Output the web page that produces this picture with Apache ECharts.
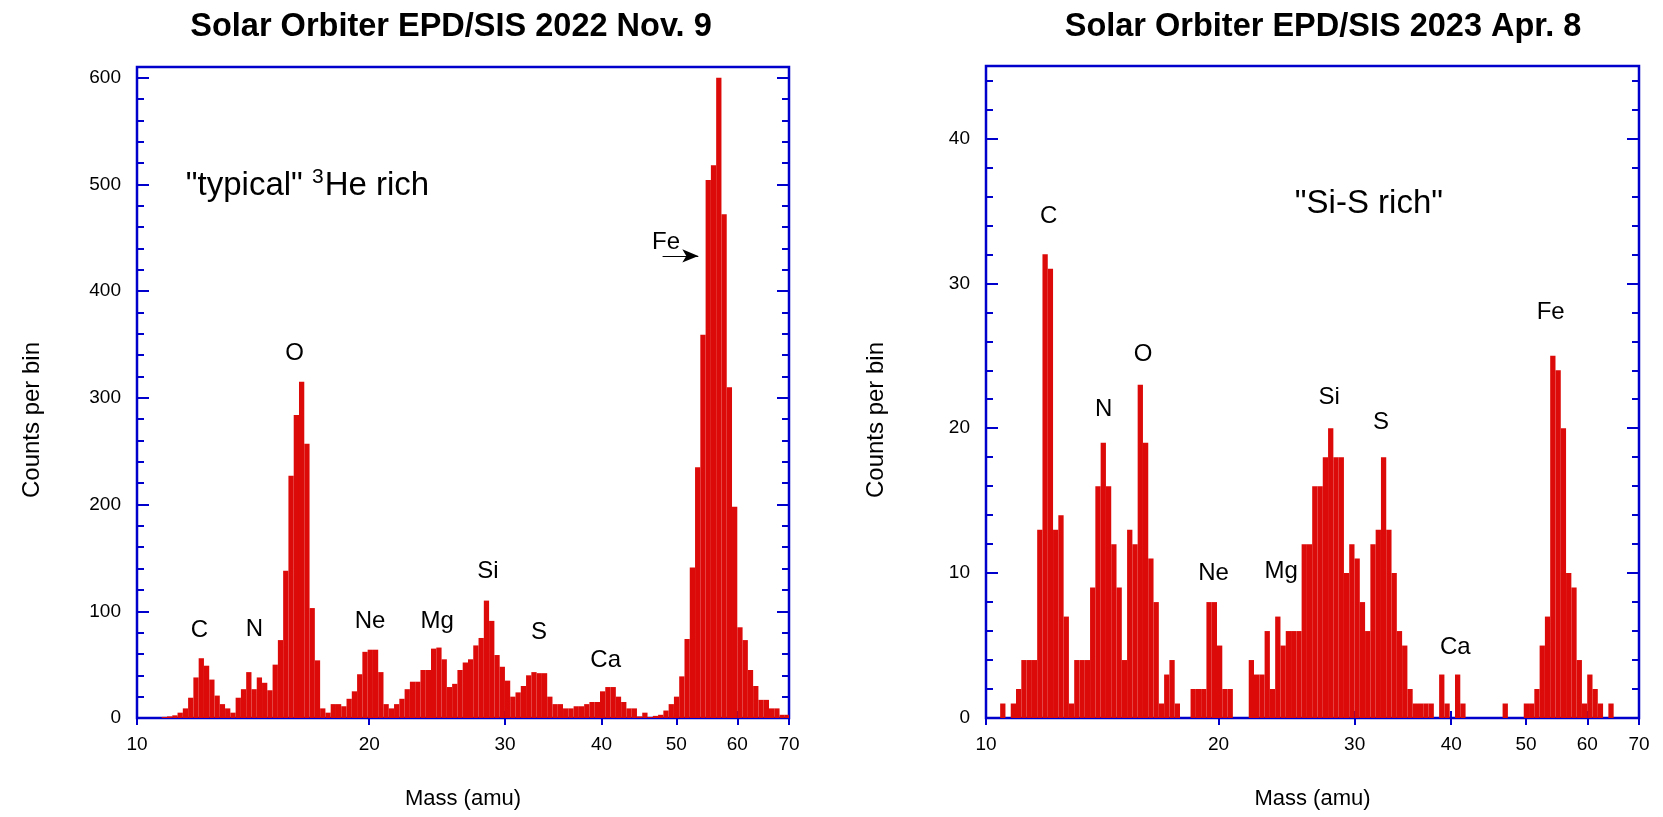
<!DOCTYPE html>
<html>
<head>
<meta charset="utf-8">
<script src="https://cdn.jsdelivr.net/npm/echarts@6/dist/echarts.min.js"></script>
<style>
html,body{margin:0;padding:0;background:#fff;}
#chart{width:1663px;height:817px;}
</style>
</head>
<body>
<div id="chart"></div>
<script>
// ---- Data ----
// Log-spaced mass bins shared by both panels
const binLowMass = 10.765;       // lower edge of bin index 0 (amu)
const binsPerDecade = 146.1;     // bins per decade of mass

// Panel 1: 2022 Nov. 9 (counts per bin, starting at bin 0)
const leftFirstBin = 0;
const leftCounts = [
  1, 1.5, 2.5, 5, 9, 19, 38, 56, 49, 36,
  21, 13, 9, 5, 19, 27, 43, 27, 38, 33,
  26, 50, 73, 138, 227, 284, 315, 257, 103, 54,
  9, 5, 13, 13, 11, 18, 25, 41, 62, 64,
  64, 43, 13, 9, 13, 18, 27, 34, 34, 45,
  45, 65, 66, 55, 29, 32, 45, 52, 55, 68,
  75, 110, 91, 59, 48, 35, 20, 24, 30, 40,
  43, 42, 42, 20, 13, 13, 9, 9, 11, 11,
  13, 15, 15, 25, 29, 29, 20, 15, 9, 9,
  1.5, 5, 1, 2, 3, 7, 13, 20, 39, 74,
  141, 235, 359, 504, 518, 600, 472, 310, 198, 85,
  73, 45, 30, 17, 17, 9, 9, 3, 3
];

// Panel 2: 2023 Apr. 8 (counts per bin, starting at bin -3)
const rightFirstBin = -3;
const rightCounts = [
  0, 1, 0, 1, 2, 4, 4, 4, 13, 32,
  31, 13, 14, 7, 1, 4, 4, 4, 9, 16,
  19, 16, 12, 9, 4, 13, 12, 23, 19, 11,
  8, 1, 3, 4, 1, 0, 0, 2, 2, 2,
  8, 8, 5, 2, 2, 0, 0, 0, 4, 3,
  3, 6, 2, 7, 5, 6, 6, 6, 12, 12,
  16, 16, 18, 20, 18, 18, 10, 12, 11, 8,
  6, 12, 13, 18, 13, 10, 6, 5, 2, 1,
  1, 1, 1, 0, 3, 1, 0, 3, 1, 0,
  0, 0, 0, 0, 0, 0, 1, 0, 0, 0,
  1, 1, 2, 5, 7, 25, 24, 20, 10, 9,
  4, 1, 3, 2, 1, 0, 1
];

const titles = ['Solar Orbiter EPD/SIS 2022 Nov. 9', 'Solar Orbiter EPD/SIS 2023 Apr. 8'];
const xName = 'Mass (amu)';
const yName = 'Counts per bin';
const xTickMasses = [10, 20, 30, 40, 50, 60, 70];
const massRange = [10, 70];
const yMax = [610, 45];
const yMajor = [100, 10];

// Element labels: [name, mass, counts]
const leftLabels = [
  ['C', 12.05, 82], ['N', 14.2, 83], ['O', 16.0, 342], ['Ne', 20.05, 91],
  ['Mg', 24.5, 91], ['Si', 28.5, 137], ['S', 33.2, 80], ['Ca', 40.5, 54], ['Fe', 48.5, 446]
];
const rightLabels = [
  ['C', 12.05, 34.6], ['N', 14.2, 21.3], ['O', 15.97, 25.1], ['Ne', 19.7, 10.0],
  ['Mg', 24.1, 10.1], ['Si', 27.8, 22.1], ['S', 32.45, 20.4], ['Ca', 40.5, 4.9], ['Fe', 53.8, 28.0]
];
const leftNote = ['"typical" ', '3', 'He rich'];
const leftNotePos = [11.57, 500];
const rightNote = '"Si-S rich"';
const rightNotePos = [31.3, 35.5];
const feArrow = [[48.0, 433], [53.4, 433]];

// ---- Build ----
const RED = '#dc0a08';
const BLUE = '#0000cc';
const FONT = 'Liberation Sans';
const dlog = 1 / binsPerDecade;
const log0 = Math.log10(binLowMass);
const lg = Math.log10;

function bars(counts, first) {
  return counts.map((c, i) => {
    const k = first + i;
    return [log0 + k * dlog, c, log0 + (k + 1) * dlog];
  }).filter(d => d[1] > 0);
}

function renderBar(params, api) {
  const p0 = api.coord([api.value(0), api.value(1)]);
  const p1 = api.coord([api.value(2), 0]);
  const cs = params.coordSys;
  const r = echarts.graphic.clipRectByRect(
    {x: p0[0], y: p0[1], width: p1[0] - p0[0], height: p1[1] - p0[1]},
    {x: cs.x, y: cs.y, width: cs.width, height: cs.height});
  return r && {type: 'rect', shape: r, style: {fill: RED}};
}

const grids = [
  {left: 137, top: 67, width: 652, height: 651},
  {left: 986, top: 66, width: 653, height: 652}
].map(g => Object.assign(g, {show: true, borderColor: BLUE, borderWidth: 2.5, backgroundColor: 'transparent'}));

const tickVals = xTickMasses.map(lg);
const xAxes = [], yAxes = [];
[0, 1].forEach(gi => {
  ['bottom', 'top'].forEach(pos => {
    xAxes.push({
      type: 'value', gridIndex: gi, position: pos,
      min: lg(massRange[0]), max: lg(massRange[1]),
      axisLine: {show: false}, splitLine: {show: false},
      axisTick: {show: true, inside: true, length: 7, customValues: tickVals, lineStyle: {color: BLUE, width: 2}},
      axisLabel: {show: pos === 'bottom', customValues: tickVals, margin: 17,
        formatter: v => String(Math.round(Math.pow(10, v))),
        color: '#000', fontSize: 19, fontFamily: FONT},
      name: pos === 'bottom' ? xName : '', nameLocation: 'middle', nameGap: 70,
      nameTextStyle: {color: '#000', fontSize: 22, fontFamily: FONT}
    });
  });
  ['left', 'right'].forEach(pos => {
    yAxes.push({
      type: 'value', gridIndex: gi, position: pos,
      min: 0, max: yMax[gi], interval: yMajor[gi],
      axisLine: {show: false}, splitLine: {show: false},
      axisTick: {show: true, inside: true, length: 12, lineStyle: {color: BLUE, width: 2}},
      minorTick: {show: true, splitNumber: 5, length: 7, lineStyle: {color: BLUE, width: 2}},
      axisLabel: {show: pos === 'left', margin: 16, color: '#000', fontSize: 19, fontFamily: FONT,
        formatter: v => (v % yMajor[gi] === 0 ? String(v) : '')}
    });
  });
});

// Text annotations placed in data coordinates through the axes
function textSeries(gi, items, font, align) {
  return {
    type: 'custom', xAxisIndex: gi * 2, yAxisIndex: gi * 2, silent: true, z: 5,
    data: items.map(l => [lg(l[1]), l[2], l[0]]),
    encode: {x: 0, y: 1},
    renderItem: (params, api) => {
      const p = api.coord([api.value(0), api.value(1)]);
      const d = items[params.dataIndex];
      const style = typeof d[0] === 'string'
        ? {text: d[0], fill: '#000', font: font, align: align || 'center', verticalAlign: 'middle'}
        : Object.assign({fill: '#000', align: align || 'center', verticalAlign: 'middle'}, d[0]);
      return {type: 'text', x: p[0], y: p[1], style: style};
    }
  };
}

const noteRich = {
  text: '{a|' + leftNote[0] + '}{s|' + leftNote[1] + '}{a|' + leftNote[2] + '}',
  rich: {
    a: {fontSize: 33, fontFamily: FONT, fill: '#000', lineHeight: 36, verticalAlign: 'bottom'},
    s: {fontSize: 21, fontFamily: FONT, fill: '#000', lineHeight: 36, verticalAlign: 'top', padding: [0, 1, 0, 0]}
  }
};

const series = [
  {type: 'custom', xAxisIndex: 0, yAxisIndex: 0, renderItem: renderBar, data: bars(leftCounts, leftFirstBin),
   encode: {x: [0, 2], y: 1}, silent: true,
   markLine: {silent: true, symbol: ['none', 'arrow'], symbolSize: [10, 16],
     lineStyle: {color: '#000', width: 1, type: 'solid'}, label: {show: false},
     data: [[{coord: [lg(feArrow[0][0]), feArrow[0][1]]}, {coord: [lg(feArrow[1][0]), feArrow[1][1]]}]]}},
  {type: 'custom', xAxisIndex: 2, yAxisIndex: 2, renderItem: renderBar, data: bars(rightCounts, rightFirstBin),
   encode: {x: [0, 2], y: 1}, silent: true},
  textSeries(0, leftLabels, '24px "' + FONT + '"'),
  textSeries(1, rightLabels, '24px "' + FONT + '"'),
  textSeries(0, [[noteRich, leftNotePos[0], leftNotePos[1]]], null, 'left'),
  textSeries(1, [[rightNote, rightNotePos[0], rightNotePos[1]]], '33px "' + FONT + '"')
];

const chart = echarts.init(document.getElementById('chart'), null, {renderer: 'canvas'});
chart.setOption({
  animation: false,
  backgroundColor: '#fff',
  grid: grids,
  xAxis: xAxes,
  yAxis: yAxes,
  series: series,
  graphic: [
    {type: 'text', x: 451, y: 11, style: {text: titles[0], align: 'center', fill: '#000',
      font: 'bold 32.5px "' + FONT + '"'}},
    {type: 'text', x: 1323, y: 11, style: {text: titles[1], align: 'center', fill: '#000',
      font: 'bold 32.5px "' + FONT + '"'}},
    {type: 'text', x: 32, y: 420, rotation: Math.PI / 2, style: {text: yName, align: 'center',
      verticalAlign: 'middle', fill: '#000', font: '24px "' + FONT + '"'}},
    {type: 'text', x: 876, y: 420, rotation: Math.PI / 2, style: {text: yName, align: 'center',
      verticalAlign: 'middle', fill: '#000', font: '24px "' + FONT + '"'}}
  ]
});
</script>
</body>
</html>
